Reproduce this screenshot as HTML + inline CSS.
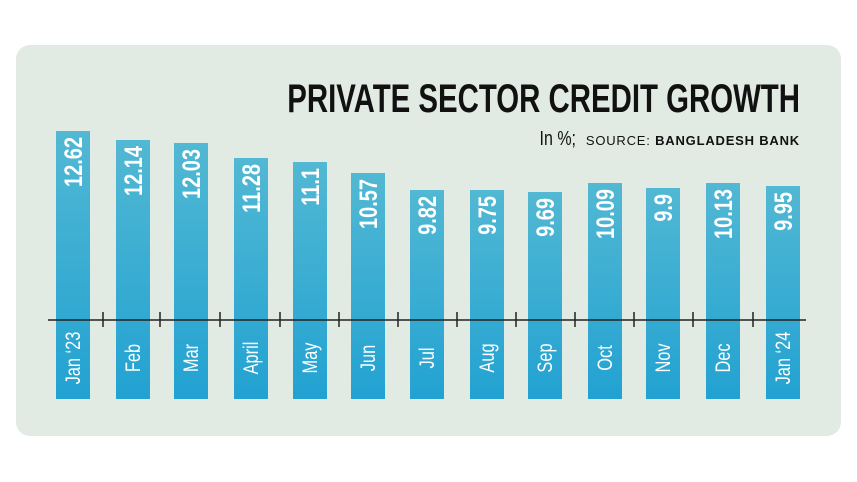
<!DOCTYPE html>
<html><head><meta charset="utf-8"><style>
html,body{margin:0;padding:0;background:#fff;}
svg{display:block;}
</style></head><body>
<svg width="857" height="482" viewBox="0 0 857 482" xmlns="http://www.w3.org/2000/svg" font-family="Liberation Sans, sans-serif">
<defs>
<linearGradient id="g" x1="0" y1="0" x2="0" y2="1">
<stop offset="0" stop-color="#52b8d3"/>
<stop offset="1" stop-color="#22a2d2"/>
</linearGradient>
</defs>
<rect x="16" y="45" width="825" height="391" rx="14" fill="#e2ebe3"/>
<text x="0" y="0" transform="translate(800,112) scale(0.735,1)" text-anchor="end" font-size="40" font-weight="bold" fill="#111">PRIVATE SECTOR CREDIT GROWTH</text>
<text x="0" y="0" transform="translate(576,145) scale(0.8,1)" text-anchor="end" font-size="20" fill="#111">In %;</text>
<text x="800" y="145" font-size="13" fill="#111" text-anchor="end" letter-spacing="0.8">SOURCE: <tspan font-weight="bold">BANGLADESH BANK</tspan></text>
<g fill="url(#g)">
<rect x="56" y="131" width="34" height="268"/>
<rect x="116" y="140" width="34" height="259"/>
<rect x="174" y="143" width="34" height="256"/>
<rect x="234" y="158" width="34" height="241"/>
<rect x="293" y="162" width="34" height="237"/>
<rect x="351" y="173" width="34" height="226"/>
<rect x="410" y="190" width="34" height="209"/>
<rect x="470" y="190" width="34" height="209"/>
<rect x="528" y="192" width="34" height="207"/>
<rect x="588" y="183" width="34" height="216"/>
<rect x="646" y="188" width="34" height="211"/>
<rect x="706" y="183" width="34" height="216"/>
<rect x="766" y="186" width="34" height="213"/>
</g>
<line x1="48" y1="320" x2="806" y2="320" stroke="#222" stroke-width="1.5"/>
<g stroke="#222" stroke-width="1.5">
<line x1="103" y1="312" x2="103" y2="327"/><line x1="160" y1="312" x2="160" y2="327"/>
<line x1="220" y1="312" x2="220" y2="327"/><line x1="280" y1="312" x2="280" y2="327"/>
<line x1="339" y1="312" x2="339" y2="327"/><line x1="398" y1="312" x2="398" y2="327"/>
<line x1="457" y1="312" x2="457" y2="327"/><line x1="516" y1="312" x2="516" y2="327"/>
<line x1="575" y1="312" x2="575" y2="327"/><line x1="634" y1="312" x2="634" y2="327"/>
<line x1="693" y1="312" x2="693" y2="327"/><line x1="753" y1="312" x2="753" y2="327"/>
</g>
<g fill="#fff" font-weight="bold" font-size="25">
<text transform="translate(82,137) rotate(-90) scale(0.8,1)" text-anchor="end">12.62</text>
<text transform="translate(142,146) rotate(-90) scale(0.8,1)" text-anchor="end">12.14</text>
<text transform="translate(200,149) rotate(-90) scale(0.8,1)" text-anchor="end">12.03</text>
<text transform="translate(260,164) rotate(-90) scale(0.8,1)" text-anchor="end">11.28</text>
<text transform="translate(319,168) rotate(-90) scale(0.8,1)" text-anchor="end">11.1</text>
<text transform="translate(377,179) rotate(-90) scale(0.8,1)" text-anchor="end">10.57</text>
<text transform="translate(436,196) rotate(-90) scale(0.8,1)" text-anchor="end">9.82</text>
<text transform="translate(496,196) rotate(-90) scale(0.8,1)" text-anchor="end">9.75</text>
<text transform="translate(554,198) rotate(-90) scale(0.8,1)" text-anchor="end">9.69</text>
<text transform="translate(614,189) rotate(-90) scale(0.8,1)" text-anchor="end">10.09</text>
<text transform="translate(672,194) rotate(-90) scale(0.8,1)" text-anchor="end">9.9</text>
<text transform="translate(732,189) rotate(-90) scale(0.8,1)" text-anchor="end">10.13</text>
<text transform="translate(792,192) rotate(-90) scale(0.8,1)" text-anchor="end">9.95</text>
</g>
<g fill="#fff" font-size="21" text-anchor="middle">
<text transform="translate(80,358) rotate(-90) scale(0.78,1)">Jan ‘23</text>
<text transform="translate(140,358) rotate(-90) scale(0.78,1)">Feb</text>
<text transform="translate(198,358) rotate(-90) scale(0.78,1)">Mar</text>
<text transform="translate(258,358) rotate(-90) scale(0.78,1)">April</text>
<text transform="translate(317,358) rotate(-90) scale(0.78,1)">May</text>
<text transform="translate(375,358) rotate(-90) scale(0.78,1)">Jun</text>
<text transform="translate(434,358) rotate(-90) scale(0.78,1)">Jul</text>
<text transform="translate(494,358) rotate(-90) scale(0.78,1)">Aug</text>
<text transform="translate(552,358) rotate(-90) scale(0.78,1)">Sep</text>
<text transform="translate(612,358) rotate(-90) scale(0.78,1)">Oct</text>
<text transform="translate(670,358) rotate(-90) scale(0.78,1)">Nov</text>
<text transform="translate(730,358) rotate(-90) scale(0.78,1)">Dec</text>
<text transform="translate(790,358) rotate(-90) scale(0.78,1)">Jan ‘24</text>
</g>
</svg>
</body></html>
